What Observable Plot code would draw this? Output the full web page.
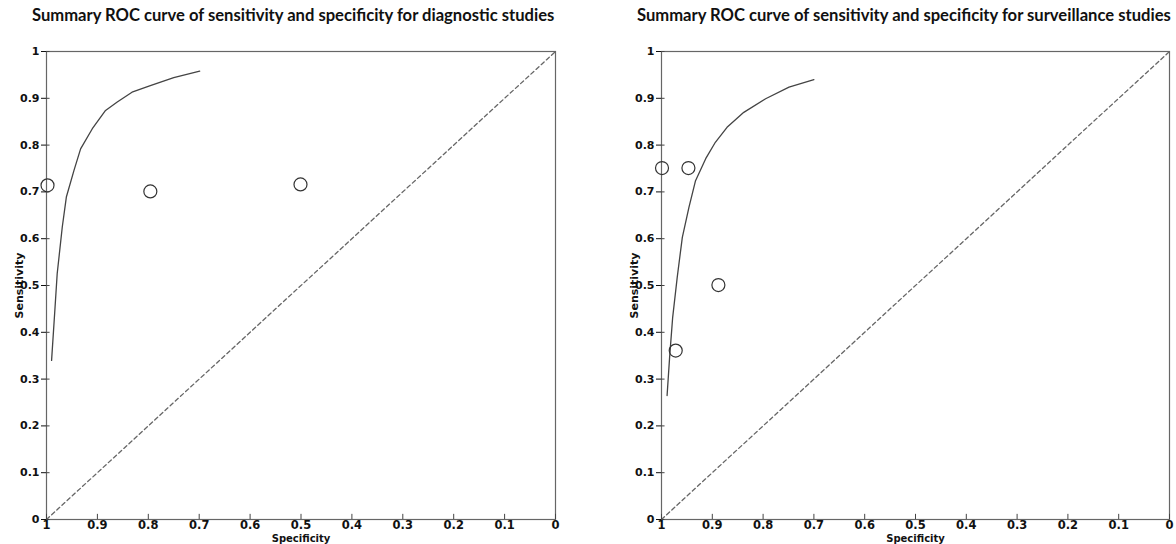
<!DOCTYPE html>
<html>
<head>
<meta charset="utf-8">
<script src="https://cdn.jsdelivr.net/npm/d3@7"></script>
<script src="https://cdn.jsdelivr.net/npm/@observablehq/plot@0.6"></script>
<style>
  html, body { margin: 0; padding: 0; background: #fff; }
  #root { position: relative; width: 1176px; height: 544px; overflow: hidden; }
  .title { position: absolute; top: 5px; font-family: Lato, "Open Sans", sans-serif; font-weight: bold; font-size: 16.6px; color: #111; white-space: nowrap; }
  .panel { position: absolute; top: 0; }
  .panel svg { overflow: visible; }
</style>
</head>
<body>
<div id="root"></div>
<script>
// ---- data ----
const tickValues = [1, 0.9, 0.8, 0.7, 0.6, 0.5, 0.4, 0.3, 0.2, 0.1, 0];
const tickLabels = ["1", "0.9", "0.8", "0.7", "0.6", "0.5", "0.4", "0.3", "0.2", "0.1", "0"];

const refSpec = [1, 0];
const refSens = [0, 1];

const diagTitle = "Summary ROC curve of sensitivity and specificity for diagnostic studies";
const diagCurveSpec = [0.990, 0.984, 0.979, 0.969, 0.961, 0.946, 0.933, 0.910, 0.884, 0.861, 0.832, 0.796, 0.750, 0.699];
const diagCurveSens = [0.340, 0.440, 0.525, 0.625, 0.689, 0.746, 0.792, 0.835, 0.874, 0.892, 0.913, 0.927, 0.944, 0.958];
const diagStudySpec = [0.998, 0.796, 0.501];
const diagStudySens = [0.714, 0.701, 0.716];

const survTitle = "Summary ROC curve of sensitivity and specificity for surveillance studies";
const survCurveSpec = [0.989, 0.984, 0.978, 0.969, 0.959, 0.946, 0.933, 0.913, 0.894, 0.871, 0.838, 0.795, 0.749, 0.700];
const survCurveSens = [0.265, 0.347, 0.432, 0.518, 0.603, 0.667, 0.724, 0.771, 0.806, 0.838, 0.870, 0.899, 0.924, 0.940];
const survStudySpec = [0.999, 0.947, 0.888, 0.972];
const survStudySens = [0.751, 0.751, 0.501, 0.361];

const xLabel = "Specificity";
const yLabel = "Sensitivity";

// ---- drawing ----
const zip = (a, b) => a.map((v, i) => ({spec: v, sens: b[i]}));
const fmt = d => tickLabels[tickValues.indexOf(d)];

function panel(left, titleLeft, title, cSpec, cSens, sSpec, sSens, marginLeft, marginRight) {
  const root = document.getElementById("root");
  const t = document.createElement("div");
  t.className = "title";
  t.style.left = titleLeft + "px";
  t.textContent = title;
  root.appendChild(t);

  const chart = Plot.plot({
    width: 588,
    height: 544,
    marginLeft, marginRight,
    marginTop: 51,
    marginBottom: 25,
    style: {fontFamily: "'DejaVu Sans', sans-serif", fontWeight: "bold", fontSize: "11.5px", color: "#111", background: "transparent"},
    x: {domain: [1, 0]},
    y: {domain: [0, 1]},
    marks: [
      Plot.frame({stroke: "#666", strokeWidth: 1.2}),
      Plot.line(zip(refSpec, refSens), {x: "spec", y: "sens", stroke: "#666", strokeWidth: 1.3, strokeDasharray: "4,3"}),
      Plot.line(zip(cSpec, cSens), {x: "spec", y: "sens", stroke: "#444", strokeWidth: 1.3, curve: "linear"}),
      Plot.dot(zip(sSpec, sSens), {x: "spec", y: "sens", r: 6.5, stroke: "#333", fill: "none", strokeWidth: 1.2}),
      Plot.ruleX(tickValues, {x: d => d, y1: 0, y2: 0.011, stroke: "#444"}),
      Plot.ruleY(tickValues, {y: d => d, x1: 1, x2: 0.993, stroke: "#444"}),
      Plot.axisX({ticks: tickValues, tickFormat: fmt, tickSize: 0, tickPadding: 1, fontSize: 11.5, label: null}),
      Plot.axisX({ticks: [], tickSize: 0, label: xLabel, labelAnchor: "center", labelArrow: "none", labelOffset: 22, fontSize: 10}),
      Plot.axisY({ticks: tickValues, tickFormat: fmt, tickSize: 5, tickPadding: 2, label: yLabel, labelAnchor: "center", labelArrow: "none", labelOffset: 31, fontSize: 11})
    ]
  });
  const wrap = document.createElement("div");
  wrap.className = "panel";
  wrap.style.left = left + "px";
  wrap.appendChild(chart);
  root.appendChild(wrap);
}

panel(0, 32, diagTitle, diagCurveSpec, diagCurveSens, diagStudySpec, diagStudySens, 46, 33);
panel(588, 637, survTitle, survCurveSpec, survCurveSens, survStudySpec, survStudySens, 73, 7);
</script>
</body>
</html>
